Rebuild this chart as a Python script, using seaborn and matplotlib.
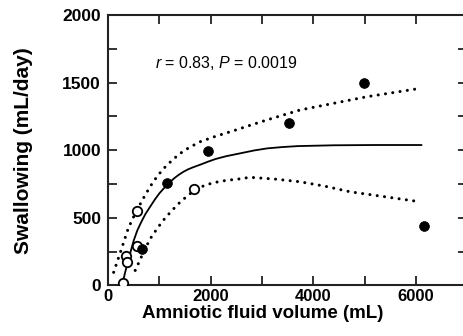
import matplotlib
matplotlib.use("Agg")
import matplotlib.pyplot as plt
import seaborn as sns
import pandas as pd
from matplotlib.ticker import MultipleLocator

# ---- data ----
filled_x = [668, 1143, 1954, 3532, 4981, 6162]
filled_y = [266, 759, 993, 1203, 1494, 439]

open_x = [292, 345, 364, 559, 571, 1675]
open_y = [15, 217, 175, 291, 552, 710]

fit_x = [280, 340, 400, 450, 500, 570, 650, 730, 820, 910, 1000, 1075, 1150, 1225, 1300, 1380,
         1470, 1560, 1650, 1800, 1950, 2100, 2300, 2570, 2850, 3100, 3400, 3700, 4400, 5200, 6110]
fit_y = [10, 105, 190, 262, 330, 405, 470, 528, 581, 633, 680, 712, 742, 770, 795, 818,
         840, 858, 872, 893, 915, 935, 955, 976, 998, 1013, 1023, 1030, 1036, 1038, 1038]

upper_x = [110, 267, 395, 540, 688, 820, 960, 1100, 1241, 1370, 1500, 1650, 1792, 2100, 2441,
           2770, 3092, 3740, 4389, 5040, 6078]
upper_y = [96, 274, 422, 540, 643, 730, 808, 870, 922, 965, 1001, 1033, 1062, 1103, 1143,
           1184, 1223, 1297, 1346, 1395, 1457]

lower_x = [530, 680, 818, 974, 1110, 1250, 1383, 1540, 1695, 1870, 2051, 2300, 2538, 2766,
           3250, 3740, 4230, 4715, 5400, 6078]
lower_y = [110, 235, 342, 429, 496, 555, 607, 660, 705, 737, 759, 776, 786, 799,
           786, 766, 733, 692, 655, 618]

x_label = "Amniotic fluid volume (mL)"
y_label = "Swallowing (mL/day)"
annot = "$r$ = 0.83, $P$ = 0.0019"

# ---- styling ----
sns.set_theme(style="ticks")
plt.rcParams["font.family"] = ["Liberation Sans", "DejaVu Sans"]
plt.rcParams["mathtext.fontset"] = "custom"
plt.rcParams["mathtext.rm"] = "Liberation Sans"
plt.rcParams["mathtext.it"] = "Liberation Sans:italic"

fig = plt.figure(figsize=(4.64, 3.36), dpi=100)
ax = fig.add_axes([108 / 464, 1 - 285.3 / 336, 359.3 / 464, 270.3 / 336])

dot_style = dict(color="black", linewidth=2.2, linestyle=(0, (0.01, 2.4)),
                 dash_capstyle="round")

sns.lineplot(x=fit_x, y=fit_y, ax=ax, color="black", linewidth=1.3,
             sort=False, estimator=None)
sns.lineplot(x=upper_x, y=upper_y, ax=ax, sort=False, estimator=None, **dot_style)
sns.lineplot(x=lower_x, y=lower_y, ax=ax, sort=False, estimator=None, **dot_style)

sns.scatterplot(x=open_x, y=open_y, ax=ax, s=46, color="white",
                edgecolor="black", linewidth=1.3, zorder=3)
sns.scatterplot(x=filled_x, y=filled_y, ax=ax, s=50, color="black",
                edgecolor="black", linewidth=0.5, zorder=4)

ax.set_xlim(0, 7000)
ax.set_ylim(0, 2000)
ax.xaxis.set_major_locator(MultipleLocator(2000))
ax.xaxis.set_minor_locator(MultipleLocator(1000))
ax.yaxis.set_major_locator(MultipleLocator(500))
ax.yaxis.set_minor_locator(MultipleLocator(250))

for sp in ax.spines.values():
    sp.set_visible(True)
    sp.set_linewidth(1.5)
    sp.set_color("#222222")

ax.tick_params(which="both", direction="in", top=True, right=True,
               length=6.5, width=1.3, color="#222222")
ax.tick_params(axis="y", which="major", labelsize=12.5, pad=5, labelcolor="black")
ax.tick_params(axis="x", which="major", labelsize=12, pad=3, labelcolor="black")
for lab in ax.get_xticklabels() + ax.get_yticklabels():
    lab.set_fontweight("bold")

ax.set_xlabel(x_label, fontsize=13.5, fontweight="bold", color="black")
ax.set_ylabel(y_label, fontsize=15, fontweight="bold", color="black")
ax.xaxis.set_label_coords(0.431, -0.074)
ax.yaxis.set_label_coords(-0.208, 0.5)

ax.text(916, 1642, annot, fontsize=11.5, ha="left", va="center", color="black")

fig.savefig("out.png", dpi=100)
